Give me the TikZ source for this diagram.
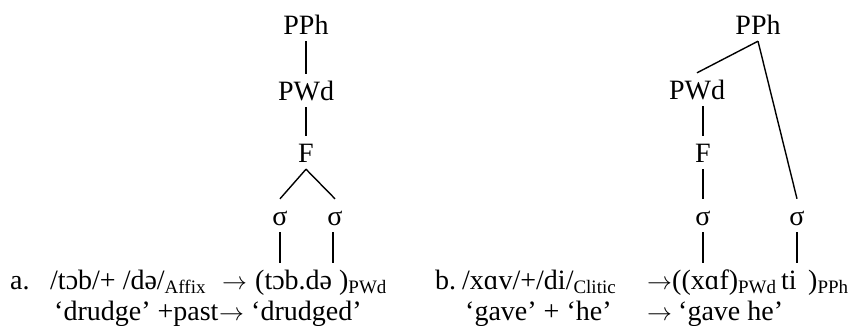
\documentclass[tikz,border=0pt]{standalone}
\usepackage{fontspec}
\setmainfont{Liberation Serif}
\usetikzlibrary{calc}
\newcommand{\lsub}[1]{\raisebox{-4pt}{\fontsize{19}{19}\selectfont #1}}
\begin{document}
\begin{tikzpicture}[x=1pt,y=-1pt,
  txt/.style={font=\fontsize{28}{32}\selectfont, inner sep=0pt, anchor=base west},
  tnode/.style={font=\fontsize{28}{32}\selectfont, inner xsep=1pt, inner ysep=7pt, text height=19pt, text depth=0pt, anchor=base},
  edge/.style={line width=1.4pt}]
\path[use as bounding box] (0,0) rectangle (856,325);

% ---------- tree a ----------
\node[tnode] (aPPh) at (306,34) {PPh};
\node[tnode] (aPWd) at (306,100) {PWd};
\node[tnode] (aF) at (306,162) {F};
\node[tnode] (as1) at (280,225) {σ};
\node[tnode] (as2) at (335,225) {σ};
\draw[edge] (aPPh.south) -- (aPWd.north);
\draw[edge] (aPWd.south) -- (aF.north);
\draw[edge] (aF.south) -- (as1.north);
\draw[edge] (aF.south) -- (as2.north);
\coordinate (ae1) at (280,263);
\coordinate (ae2) at (333,263);
\draw[edge] (as1.south -| ae1) -- (ae1);
\draw[edge] (as2.south -| ae2) -- (ae2);

% ---------- tree b ----------
\node[tnode] (bPPh) at (758,34) {PPh};
\node[tnode] (bPWd) at (697,99) {PWd};
\node[tnode] (bF) at (703,162) {F};
\node[tnode] (bs1) at (703,225) {σ};
\node[tnode] (bs2) at (797,225) {σ};
\draw[edge] (bPPh.south) -- (bPWd.north);
\draw[edge] (bPPh.south) -- (bs2.north);
\draw[edge] (bF.north |- bPWd.south) -- (bF.north);
\draw[edge] (bF.south) -- (bs1.north);
\coordinate (be1) at (703,263);
\coordinate (be2) at (797,263);
\draw[edge] (bs1.south) -- (be1);
\draw[edge] (bs2.south) -- (be2);

% ---------- row a ----------
\node[txt] (la) at (10,289) {a.};
\node[txt] (a1) at (50,289) {/tɔb/+ /də/\lsub{Affix}};
\node[txt] (a2) at (222,289) {$\rightarrow$};
\node[txt] (a3) at (255,289) {(tɔb.də )\lsub{PWd}};
\node[txt] (a4) at (54,320) {‘drudge’ +past};
\node[txt] (a5) at (219,320) {$\rightarrow$};
\node[txt] (a6) at (251,320) {‘drudged’};

% ---------- row b ----------
\node[txt] (lb) at (435,289) {b.};
\node[txt] (b1) at (462,289) {/xɑv/+/di/\lsub{Clitic}};
\node[txt] (b2) at (647,289) {$\rightarrow$};
\node[txt] (b3) at (672,289) {((xɑf)\lsub{PWd}};
\node[txt] (b4) at (781,289) {ti};
\node[txt] (b5) at (808,289) {)\lsub{PPh}};
\node[txt] (b6) at (465,320) {‘gave’ + ‘he’};
\node[txt] (b7) at (647,320) {$\rightarrow$};
\node[txt] (b8) at (678,320) {‘gave he’};
\end{tikzpicture}
\end{document}
